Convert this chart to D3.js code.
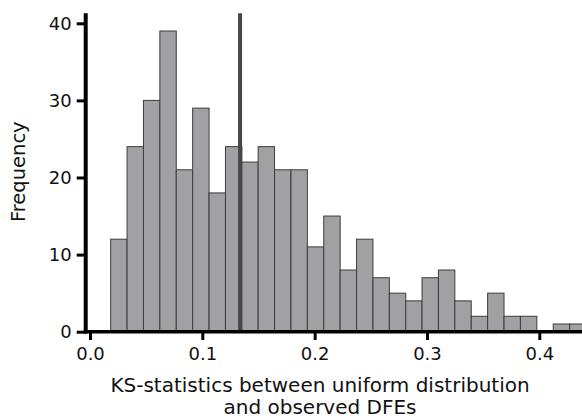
<!DOCTYPE html>
<html>
<head>
<meta charset="utf-8">
<script src="https://cdn.jsdelivr.net/npm/d3@7"></script>
<style>
  body { margin: 0; background: #fff; }
  text { font-family: "DejaVu Sans", sans-serif; fill: #111; }
</style>
</head>
<body>
<div id="chart"></div>
<script>
var W = 582, H = 419;

// histogram bin edges (KS statistic) and counts
var binEdges = [0.0184, 0.0330, 0.0476, 0.0622, 0.0768, 0.0914, 0.1060, 0.1206,
                0.1352, 0.1497, 0.1643, 0.1789, 0.1935, 0.2081, 0.2227, 0.2373,
                0.2519, 0.2665, 0.2811, 0.2956, 0.3102, 0.3248, 0.3394, 0.3540,
                0.3686, 0.3832, 0.3978, 0.4124, 0.4270, 0.4415];
var counts = [12, 24, 30, 39, 21, 29, 18, 24, 22, 24, 21, 21, 11, 15, 8,
              12, 7, 5, 4, 7, 8, 4, 2, 5, 2, 2, 0, 1, 1];
var markerValue = 0.1336;   // vertical reference line
var xTicks = [0.0, 0.1, 0.2, 0.3, 0.4],
    yTicks = [0, 10, 20, 30, 40];
var xLabelLines = ["KS-statistics between uniform distribution", "and observed DFEs"],
    yLabel = "Frequency";

var svg = d3.select("#chart")
  .append("svg")
    .attr("width", W)
    .attr("height", H);

var x = d3.scaleLinear().domain([0, 0.4]).range([90, 539.3]),
    y = d3.scaleLinear().domain([0, 40]).range([331.7, 23.3]);

var axLeft = 85.7, axBottom = y(0), axTop = y(41.3);

var bins = counts.map(function(c, i) {
  return { x0: binEdges[i], x1: binEdges[i + 1], n: c };
});

svg.append("g")
    .attr("class", "bars")
  .selectAll("rect")
  .data(bins.filter(function(d) { return d.n > 0; }))
  .enter()
  .append("rect")
    .attr("x", function(d) { return x(d.x0); })
    .attr("y", function(d) { return y(d.n); })
    .attr("width", function(d) { return x(d.x1) - x(d.x0); })
    .attr("height", function(d) { return y(0) - y(d.n); })
    .attr("fill", "#a1a1a3")
    .attr("stroke", "#3c3c3e")
    .attr("stroke-width", 1);

svg.append("line")
    .attr("x1", x(markerValue)).attr("x2", x(markerValue))
    .attr("y1", axTop).attr("y2", axBottom)
    .attr("stroke", "#47464b")
    .attr("stroke-width", 4);

// axes (domain path replaced with thick spines)
var axisY = d3.axisLeft(y)
    .tickValues(yTicks)
    .tickFormat(d3.format("d"))
    .tickSize(9)
    .tickPadding(5);
var axisX = d3.axisBottom(x)
    .tickValues(xTicks)
    .tickFormat(d3.format(".1f"))
    .tickSize(8.3)
    .tickPadding(7);

var gy = svg.append("g")
    .attr("transform", "translate(" + axLeft + ",0)")
    .call(axisY);
var gx = svg.append("g")
    .attr("transform", "translate(0," + axBottom + ")")
    .call(axisX);

[gx, gy].forEach(function(g) {
  g.select(".domain").remove();
  g.selectAll(".tick line").attr("stroke", "#000").attr("stroke-width", 3);
  g.selectAll(".tick text")
      .style("font-family", "'DejaVu Sans', sans-serif")
      .style("font-size", "18px")
      .attr("fill", "#111");
});

svg.append("line")
    .attr("x1", axLeft).attr("x2", axLeft)
    .attr("y1", axTop).attr("y2", axBottom + 1.8)
    .attr("stroke", "#000").attr("stroke-width", 4);
svg.append("line")
    .attr("x1", axLeft - 2).attr("x2", W)
    .attr("y1", axBottom).attr("y2", axBottom)
    .attr("stroke", "#000").attr("stroke-width", 3.6);

// axis titles
svg.append("text")
    .attr("transform", "translate(25," + 171.7 + ") rotate(-90)")
    .attr("text-anchor", "middle")
    .style("font-size", "19.5px")
    .text(yLabel);

svg.append("text")
    .attr("text-anchor", "middle")
    .style("font-size", "20px")
  .selectAll("tspan")
  .data(xLabelLines)
  .enter()
  .append("tspan")
    .attr("x", 320)
    .attr("y", function(d, i) { return 391.7 + i * 22.6; })
    .text(function(d) { return d; });
</script>
</body>
</html>
